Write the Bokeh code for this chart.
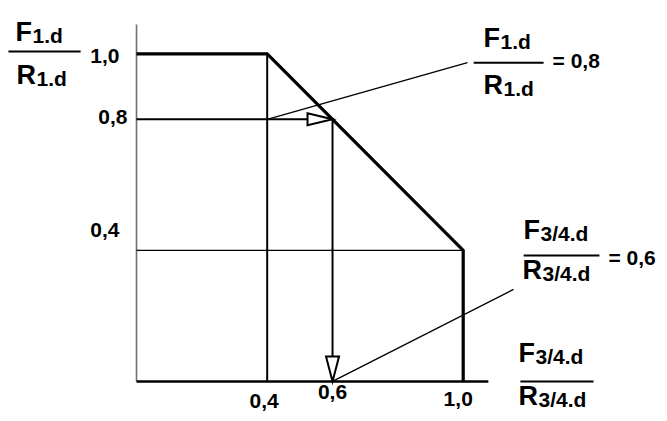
from bokeh.plotting import figure
from bokeh.models import Range1d
from bokeh.core.properties import value
from bokeh.embed import file_html
from bokeh.resources import INLINE

# ---------------- data ----------------
curve_x = [0.0, 0.4, 1.0, 1.0]          # interaction curve
curve_y = [1.0, 1.0, 0.4, 0.0]
knee_x = 0.4                             # vertical guide at x = 0.4
floor_y = 0.4                            # horizontal guide at y = 0.4
read_x = 0.6                             # F3/4.d / R3/4.d = 0,6
read_y = 0.8                             # F1.d / R1.d = 0,8
axis_x_max = 1.077
axis_y_max = 1.089

y_ticks = [1.0, 0.8, 0.4]
y_tick_labels = ["1,0", "0,8", "0,4"]
x_ticks = [0.4, 0.6, 1.0]
x_tick_labels = ["0,4", "0,6", "1,0"]

# ---------------- styles / layout ----------------
SX = 326.7   # px per unit x (from ranges below)
SY = 327.7   # px per unit y
FONT = value("Liberation Sans")
SH = -9      # baseline correction (px) for 21px text
SH_BIG = -12 # baseline correction (px) for 27px text

p = figure(width=667, height=421, output_backend="svg", toolbar_location=None,
           x_range=Range1d(-0.4163, 1.6253), y_range=Range1d(-0.1221, 1.1626),
           x_axis_type=None, y_axis_type=None, min_border=0)
p.grid.visible = False
p.outline_line_color = None
p.background_fill_color = "white"

# axes
p.segment(x0=[0], y0=[0], x1=[0], y1=[axis_y_max], line_color="#707070", line_width=1.6)
p.segment(x0=[0], y0=[0], x1=[axis_x_max], y1=[0], line_color="black", line_width=2.5)

# guides
p.segment(x0=[knee_x], y0=[0], x1=[knee_x], y1=[curve_y[1]], line_color="black", line_width=2)
p.segment(x0=[0], y0=[floor_y], x1=[curve_x[2]], y1=[floor_y], line_color="black", line_width=1.4)

# curve
p.line(curve_x, curve_y, line_color="black", line_width=3.2, line_join="miter")

# arrows
ah_len_x = 25 / SX
ah_half_y = 6 / SY
ah_len_y = 25 / SY
ah_half_x = 6.5 / SX
p.segment(x0=[0], y0=[read_y], x1=[read_x - ah_len_x], y1=[read_y], line_color="black", line_width=2)
p.segment(x0=[read_x], y0=[read_y], x1=[read_x], y1=[ah_len_y], line_color="black", line_width=2)
p.patch([read_x - ah_len_x, read_x, read_x - ah_len_x],
        [read_y + ah_half_y, read_y, read_y - ah_half_y],
        fill_color="white", line_color="black", line_width=2, line_join="miter")
p.patch([read_x - ah_half_x, read_x, read_x + ah_half_x],
        [ah_len_y, 0, ah_len_y],
        fill_color="white", line_color="black", line_width=2, line_join="miter")

# leader lines
p.segment(x0=[knee_x], y0=[read_y], x1=[1.013], y1=[0.973], line_color="black", line_width=1.4)
p.segment(x0=[read_x], y0=[0], x1=[1.154], y1=[0.281], line_color="black", line_width=1.4)

# tick labels
p.text(x=[0, 0, 0], y=y_ticks, text=y_tick_labels, text_font=FONT, text_font_style="bold",
       text_font_size="21px", text_align="right", text_baseline="alphabetic",
       x_offset=[-17, -9, -17], y_offset=[11 + SH, 7 + SH, -11 + SH], text_color="black")
p.text(x=x_ticks, y=[0, 0, 0], text=x_tick_labels, text_font=FONT, text_font_style="bold",
       text_font_size="21px", text_align="center", text_baseline="alphabetic",
       x_offset=[-3, 0, -5], y_offset=[29 + SH, 20 + SH, 27 + SH], text_color="black")

# fractions
def fraction(lx0, lx1, ly, fx, fy, rx, ry, sub):
    p.segment(x0=[lx0], y0=[ly], x1=[lx1], y1=[ly], line_color="black", line_width=2)
    p.text(x=[fx, rx], y=[fy, ry], text=["F", "R"], text_font=FONT, text_font_style="bold",
           text_font_size="27px", text_align="left", text_baseline="alphabetic",
           y_offset=SH_BIG, text_color="black")
    p.text(x=[fx, rx], y=[fy, ry], text=[sub, sub], text_font=FONT, text_font_style="bold",
           text_font_size="21px", text_align="left", text_baseline="alphabetic",
           x_offset=[17, 20], y_offset=SH, text_color="black")

fraction(-0.392, -0.171, 1.007, -0.3704, 1.0284, -0.3673, 0.8972, "1.d")
fraction(1.032, 1.246, 0.973, 1.0621, 1.0101, 1.0621, 0.8667, "1.d")
fraction(1.185, 1.417, 0.3845, 1.1846, 0.4242, 1.1815, 0.3021, "3/4.d")
fraction(1.175, 1.399, 0.0, 1.1693, 0.0488, 1.1693, -0.0824, "3/4.d")

p.text(x=[1.2734, 1.4447], y=[0.952, 0.351], text=["= 0,8", "= 0,6"], text_font=FONT,
       text_font_style="bold", text_font_size="21px", text_align="left",
       text_baseline="alphabetic", y_offset=SH, text_color="black")

open("out.html", "w").write(file_html(p, INLINE))
